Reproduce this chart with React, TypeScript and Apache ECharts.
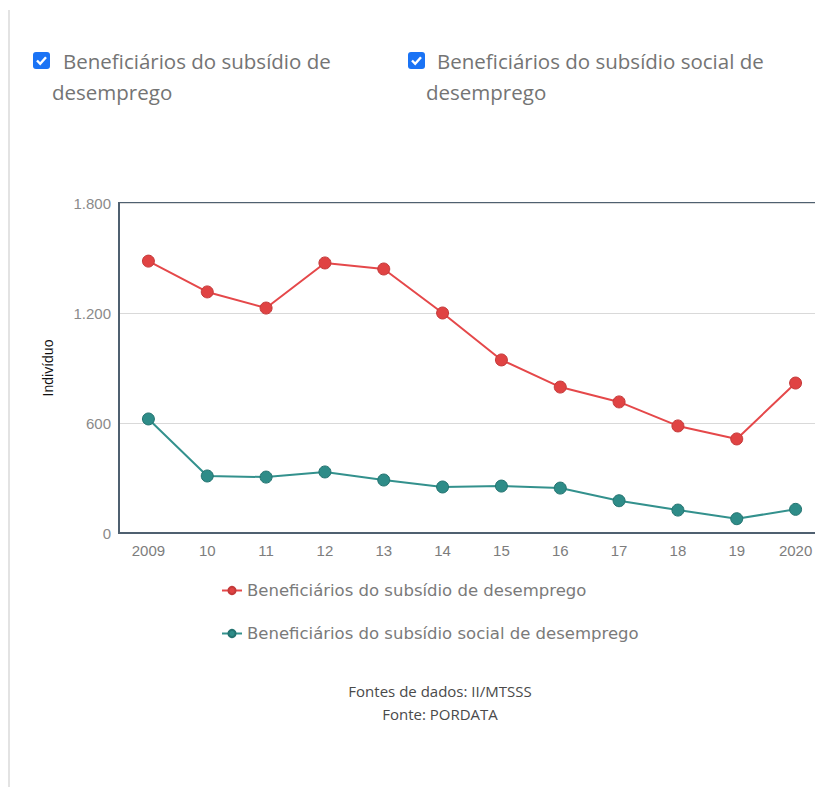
import React, { useEffect, useRef } from "react";
import * as echarts from "echarts";

const years = ["2009", "10", "11", "12", "13", "14", "15", "16", "17", "18", "19", "2020"];
const subsidioDesemprego = [1483, 1315, 1227, 1473, 1440, 1200, 944, 796, 715, 584, 513, 818];
const subsidioSocial = [622, 311, 305, 333, 289, 251, 256, 245, 176, 125, 78, 129];
const seriesNames = [
  "Beneficiários do subsídio de desemprego",
  "Beneficiários do subsídio social de desemprego",
];
const checkboxLine1 = ["Beneficiários do subsídio de", "Beneficiários do subsídio social de"];
const checkboxLine2 = ["desemprego", "desemprego"];
const yTicks = { min: 0, max: 1800, interval: 600 };
const yAxisName = "Indivíduo";
const footerLines = ["Fontes de dados: II/MTSSS", "Fonte: PORDATA"];

const RED = "#e5484a";
const TEAL = "#33918d";

function fmt(v: number) {
  return String(v).replace(/\B(?=(\d{3})+(?!\d))/g, ".");
}

function checkbox(x: number, y: number) {
  return {
    type: "group",
    x,
    y,
    children: [
      { type: "rect", shape: { x: 0, y: 0, width: 17, height: 17, r: 3 }, style: { fill: "#1a73f5" } },
      {
        type: "polyline",
        shape: { points: [[4, 8.5], [7.2, 11.8], [13, 5.2]] },
        style: { stroke: "#ffffff", lineWidth: 2.4, fill: "none" },
      },
    ],
  };
}

function label(text: string, x: number, y: number, size: number, color: string, align = "left") {
  return {
    type: "text",
    x,
    y,
    style: {
      text,
      fontFamily: "Open Sans",
      fontSize: size,
      fill: color,
      align,
      verticalAlign: "middle",
    },
  };
}

export default function App() {
  const ref = useRef<HTMLDivElement>(null);
  useEffect(() => {
    if (!ref.current) return;
    const chart = echarts.init(ref.current, undefined, { renderer: "svg" });
    chart.setOption({
      animation: false,
      backgroundColor: "#ffffff",
      textStyle: { fontFamily: "Liberation Sans" },
      grid: {
        left: 119,
        top: 203,
        width: 706,
        height: 330,
        show: true,
        borderColor: "#4f6070",
        borderWidth: 2,
        backgroundColor: "transparent",
      },
      legend: {
        orient: "vertical",
        left: 221,
        top: 582,
        padding: 0,
        itemGap: 26,
        itemWidth: 20,
        itemHeight: 9,
        data: seriesNames,
        textStyle: { fontFamily: "DejaVu Sans", fontSize: 16.5, color: "#7a7a7a" },
      },
      xAxis: {
        type: "category",
        data: years,
        boundaryGap: true,
        axisLine: { show: true, lineStyle: { color: "#4f6070", width: 2 } },
        axisTick: { show: false },
        axisLabel: { color: "#7d7d7d", fontSize: 15, margin: 10, fontFamily: "Liberation Sans" },
        splitLine: { show: false },
      },
      yAxis: {
        type: "value",
        min: yTicks.min,
        max: yTicks.max,
        interval: yTicks.interval,
        name: yAxisName,
        nameLocation: "middle",
        nameGap: 64,
        nameTextStyle: { color: "#111111", fontSize: 14, fontFamily: "Liberation Sans" },
        axisLine: { show: true, lineStyle: { color: "#4f6070", width: 2 } },
        axisTick: { show: false },
        axisLabel: {
          color: "#8a8a8a",
          fontSize: 15,
          margin: 8,
          formatter: (v: number) => fmt(v),
        },
        splitLine: { show: true, lineStyle: { color: "#d9d9d9", width: 1 } },
      },
      series: [
        {
          name: seriesNames[0],
          type: "line",
          data: subsidioDesemprego,
          symbol: "circle",
          symbolSize: 12,
          lineStyle: { color: RED, width: 2 },
          itemStyle: { color: "#e04343", borderColor: "#c43a3a", borderWidth: 1 },
        },
        {
          name: seriesNames[1],
          type: "line",
          data: subsidioSocial,
          symbol: "circle",
          symbolSize: 12,
          lineStyle: { color: TEAL, width: 2 },
          itemStyle: { color: "#2e8c88", borderColor: "#237370", borderWidth: 1 },
        },
      ],
      graphic: [
        {
          type: "line",
          shape: { x1: 9, y1: 10, x2: 9, y2: 787 },
          style: { stroke: "#e3e3e3", lineWidth: 2 },
        },
        checkbox(33, 52),
        label(checkboxLine1[0], 63, 61, 20.5, "#747474"),
        label(checkboxLine2[0], 52, 92, 20.5, "#747474"),
        checkbox(408, 52),
        label(checkboxLine1[1], 437, 61, 20.5, "#747474"),
        label(checkboxLine2[1], 426, 92, 20.5, "#747474"),
        label(footerLines[0], 440, 691, 15, "#4a4a4a", "center"),
        label(footerLines[1], 440, 714, 15, "#4a4a4a", "center"),
      ],
    });
    return () => chart.dispose();
  }, []);
  return (
    <div style={{ position: "absolute", left: 0, top: 0, width: 815, height: 787, overflow: "hidden" }}>
      <div ref={ref} style={{ width: 845, height: 787 }} />
    </div>
  );
}
